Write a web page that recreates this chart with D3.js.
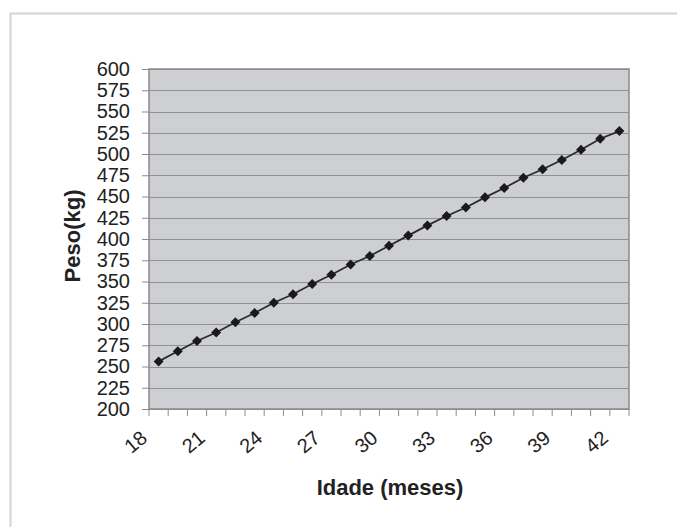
<!DOCTYPE html>
<html>
<head>
<meta charset="utf-8">
<script src="https://cdn.jsdelivr.net/npm/d3@7"></script>
<style>
  body { margin: 0; background: #fff; }
  text { font-family: "Liberation Sans", Arial, sans-serif; }
</style>
</head>
<body>
<div id="chart"></div>
<script>
// 데이터: 월령(개월)과 체중(kg)
const meses = [18, 19, 20, 21, 22, 23, 24, 25, 26, 27, 28, 29, 30, 31, 32, 33, 34, 35, 36, 37, 38, 39, 40, 41, 42];
const peso = [256, 268, 280, 290, 302, 313, 325, 335, 347, 358, 370, 380, 392, 404, 416, 427, 437, 449, 460, 472, 482, 493, 505, 518, 527];
const yTicks = d3.range(200, 601, 25);
const xLabels = [18, 21, 24, 27, 30, 33, 36, 39, 42];

const W = 677, H = 527;
const plot = { left: 149, right: 629, top: 69, bottom: 409 };

const svg = d3.select('#chart')
    .append('svg')
    .attr('width', W)
    .attr('height', H);

// 바깥 테두리
svg.append('path')
    .attr('d', `M10.5,${H} V13.5 H${W}`)
    .attr('fill', 'none')
    .attr('stroke', '#d4d4d4')
    .attr('stroke-width', 2);

const x = d3.scaleBand()
    .domain(meses)
    .range([plot.left, plot.right]);

const y = d3.scaleLinear()
    .domain([200, 600])
    .range([plot.bottom, plot.top]);

// 플롯 영역 배경
svg.append('rect')
    .attr('x', plot.left)
    .attr('y', plot.top)
    .attr('width', plot.right - plot.left)
    .attr('height', plot.bottom - plot.top)
    .attr('fill', '#cdcfd2');

// y축 눈금과 레이블
const yAxis = svg.append('g')
    .attr('transform', `translate(${plot.left},0)`)
    .call(d3.axisLeft(y).tickValues(yTicks).tickSize(7).tickPadding(12))
    .call(g => g.select('.domain').remove());
yAxis.selectAll('line')
    .attr('stroke', '#8c8c8c');
yAxis.selectAll('text')
    .attr('font-size', '20px')
    .attr('fill', '#222')
    .attr('font-family', '"Liberation Sans", Arial, sans-serif');

// 가로 격자선
svg.append('g')
    .selectAll('line')
    .data(yTicks)
    .join('line')
    .attr('x1', plot.left)
    .attr('x2', plot.right)
    .attr('y1', d => Math.round(y(d)) + 0.5)
    .attr('y2', d => Math.round(y(d)) + 0.5)
    .attr('stroke', '#8f9193')
    .attr('stroke-width', 1.2);

// 플롯 테두리
svg.append('rect')
    .attr('x', plot.left)
    .attr('y', plot.top)
    .attr('width', plot.right - plot.left)
    .attr('height', plot.bottom - plot.top)
    .attr('fill', 'none')
    .attr('stroke', '#8a8a8a')
    .attr('stroke-width', 1.5);

// x축 눈금 (카테고리 경계)
const bounds = meses.map(m => x(m)).concat([plot.right]);
svg.append('g')
    .selectAll('line')
    .data(bounds)
    .join('line')
    .attr('x1', d => d)
    .attr('x2', d => d)
    .attr('y1', plot.bottom)
    .attr('y2', plot.bottom + 7)
    .attr('stroke', '#8c8c8c');

// x축 레이블 (회전)
svg.append('g')
    .selectAll('text')
    .data(xLabels)
    .join('text')
    .attr('transform', d => `translate(${x(d) + x.bandwidth() / 2 - 10},${plot.bottom + 31}) rotate(-40)`)
    .attr('text-anchor', 'end')
    .attr('font-size', '20px')
    .attr('fill', '#222')
    .text(d => d);

// 선
const line = d3.line()
    .x((d, i) => x(meses[i]) + x.bandwidth() / 2)
    .y(d => y(d));

svg.append('path')
    .datum(peso)
    .attr('d', line)
    .attr('fill', 'none')
    .attr('stroke', '#2b2b2b')
    .attr('stroke-width', 1.8);

// 마커 (다이아몬드)
svg.append('g')
    .selectAll('path')
    .data(peso)
    .join('path')
    .attr('d', d3.symbol().type(d3.symbolSquare).size(50))
    .attr('transform', (d, i) => `translate(${x(meses[i]) + x.bandwidth() / 2},${y(d)}) rotate(45)`)
    .attr('fill', '#1a1a1a');

// 축 제목
svg.append('text')
    .attr('x', 390)
    .attr('y', 495)
    .attr('text-anchor', 'middle')
    .attr('font-size', '22px')
    .attr('font-weight', 'bold')
    .attr('fill', '#222')
    .text('Idade (meses)');

svg.append('text')
    .attr('transform', 'translate(80,236) rotate(-90)')
    .attr('text-anchor', 'middle')
    .attr('font-size', '22px')
    .attr('font-weight', 'bold')
    .attr('fill', '#222')
    .text('Peso(kg)');
</script>
</body>
</html>
